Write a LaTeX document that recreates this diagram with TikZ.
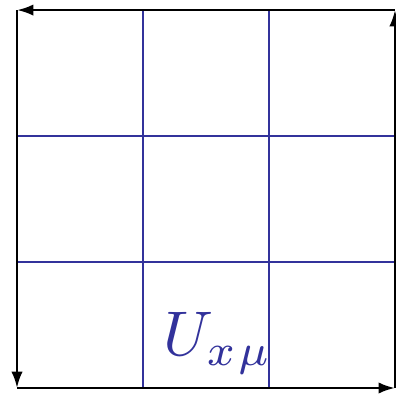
\documentclass[tikz,border=0pt]{standalone}
\usetikzlibrary{arrows.meta}
\definecolor{linkblue}{RGB}{50,50,155}
\begin{document}
\begin{tikzpicture}[
  lattice/.style={draw=linkblue, line width=0.8pt},
  edge/.style={-{Latex[length=2.6mm,width=1.8mm]}, line width=1.1pt, black}
]
  \useasboundingbox (-0.27,-0.127) rectangle (6.016,6.16);
  % corners of the loop
  \coordinate (sw) at (0,0);
  \coordinate (se) at (6,0);
  \coordinate (ne) at (6,6);
  \coordinate (nw) at (0,6);

  % lattice
  \foreach \i in {2,4} {
    \draw[lattice] (\i,0) -- (\i,6);
    \draw[lattice] (0,\i) -- (6,\i);
  }

  % the loop
  \draw[edge] (sw) -- (se);
  \draw[edge] (se) -- (ne);
  \draw[edge] (ne) -- (nw);
  \draw[edge] (nw) -- (sw);

  \node[text=linkblue, inner sep=0pt, anchor=base west] (link) at (2.32,0.51) {\scalebox{2.85}{$U_{x\mskip1mu\mu}$}};
\end{tikzpicture}
\end{document}
